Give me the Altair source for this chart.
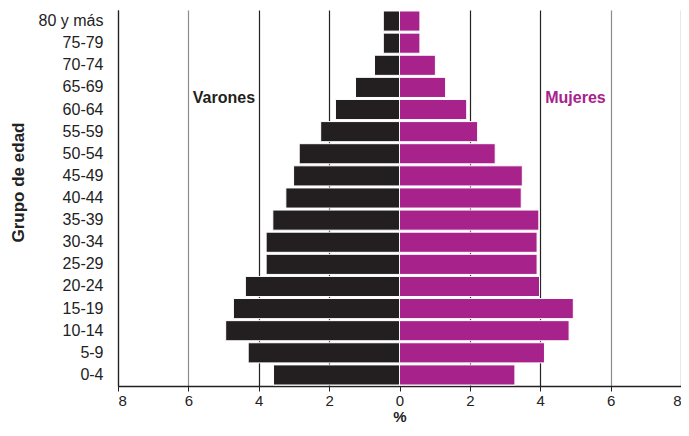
import altair as alt
import pandas as pd

ages = ["0-4", "5-9", "10-14", "15-19", "20-24", "25-29", "30-34", "35-39",
        "40-44", "45-49", "50-54", "55-59", "60-64", "65-69", "70-74", "75-79", "80 y más"]
varones = [3.58, 4.30, 4.94, 4.72, 4.38, 3.79, 3.79, 3.60, 3.23, 3.01, 2.85, 2.24, 1.82, 1.25, 0.71, 0.46, 0.46]
mujeres = [3.28, 4.12, 4.82, 4.94, 3.98, 3.91, 3.91, 3.96, 3.46, 3.49, 2.72, 2.22, 1.91, 1.31, 1.02, 0.58, 0.58]
sexes = ["Varones", "Mujeres"]
colors = ["#231F20", "#A8228C"]

rows = []
for a, v, m in zip(ages, varones, mujeres):
    rows.append({"edad": a, "sexo": "Varones", "pct": -v})
    rows.append({"edad": a, "sexo": "Mujeres", "pct": m})
df = pd.DataFrame(rows)

labels = pd.DataFrame({"sexo": sexes, "x": [-4.99, 5.0], "edad": ["65-69", "65-69"]})

FONT = "Liberation Sans, Arial, sans-serif"
order = list(reversed(ages))

yscale = alt.Scale(domain=order, paddingInner=0.09, paddingOuter=0.045)
xscale = alt.Scale(domain=[-8, 8], nice=False)
cscale = alt.Scale(domain=sexes, range=colors)

bars = alt.Chart(df).mark_bar(stroke="white", strokeWidth=1).encode(
    x=alt.X("pct:Q", scale=xscale,
            axis=alt.Axis(values=[-8, -6, -4, -2, 0, 2, 4, 6, 8], title="%",
                          labelExpr="abs(datum.value)",
                          grid=True,
                          gridColor={"condition": {"test": "abs(datum.value) == 6", "value": "#8c8c8c"}, "value": "#222222"},
                          gridOpacity={"condition": {"test": "datum.value == 0", "value": 0}, "value": 1},
                          gridWidth=1.2,
                          domainColor="#222222", domainWidth=1.5,
                          tickColor="#222222", tickSize=5,
                          labelFontSize=15, labelColor="#222222", labelPadding=2,
                          titleFontSize=15, titleFontWeight="bold", titleColor="#222222",
                          titlePadding=1)),
    y=alt.Y("edad:N", scale=yscale, sort=order,
            axis=alt.Axis(title="Grupo de edad", ticks=False, domain=True,
                          domainColor="#222222", domainWidth=1.2,
                          labelFontSize=16, labelColor="#222222", labelPadding=15,
                          titleFontSize=17, titleFontWeight="bold", titleColor="#222222",
                          titleAngle=270, titleBaseline="bottom", titleAlign="center",
                          titleX=-91, titleY=172)),
    color=alt.Color("sexo:N", scale=cscale, legend=None),
)

text = alt.Chart(labels).mark_text(fontSize=16, fontWeight="bold", font=FONT, dy=11).encode(
    x=alt.X("x:Q", scale=xscale),
    y=alt.Y("edad:N", scale=yscale, sort=order),
    text="sexo:N",
    color=alt.Color("sexo:N", scale=cscale, legend=None),
)

chart = alt.layer(bars, text).properties(
    width=563, height=376,
    autosize=alt.AutoSizeParams(type="none"),
    padding={"left": 110, "top": 2, "right": 0, "bottom": 38},
    background="white"
).configure_view(stroke=None).configure_axis(
    labelFont=FONT, titleFont=FONT
)

chart.save("out.html", embed_options={"renderer": "svg", "actions": False})
